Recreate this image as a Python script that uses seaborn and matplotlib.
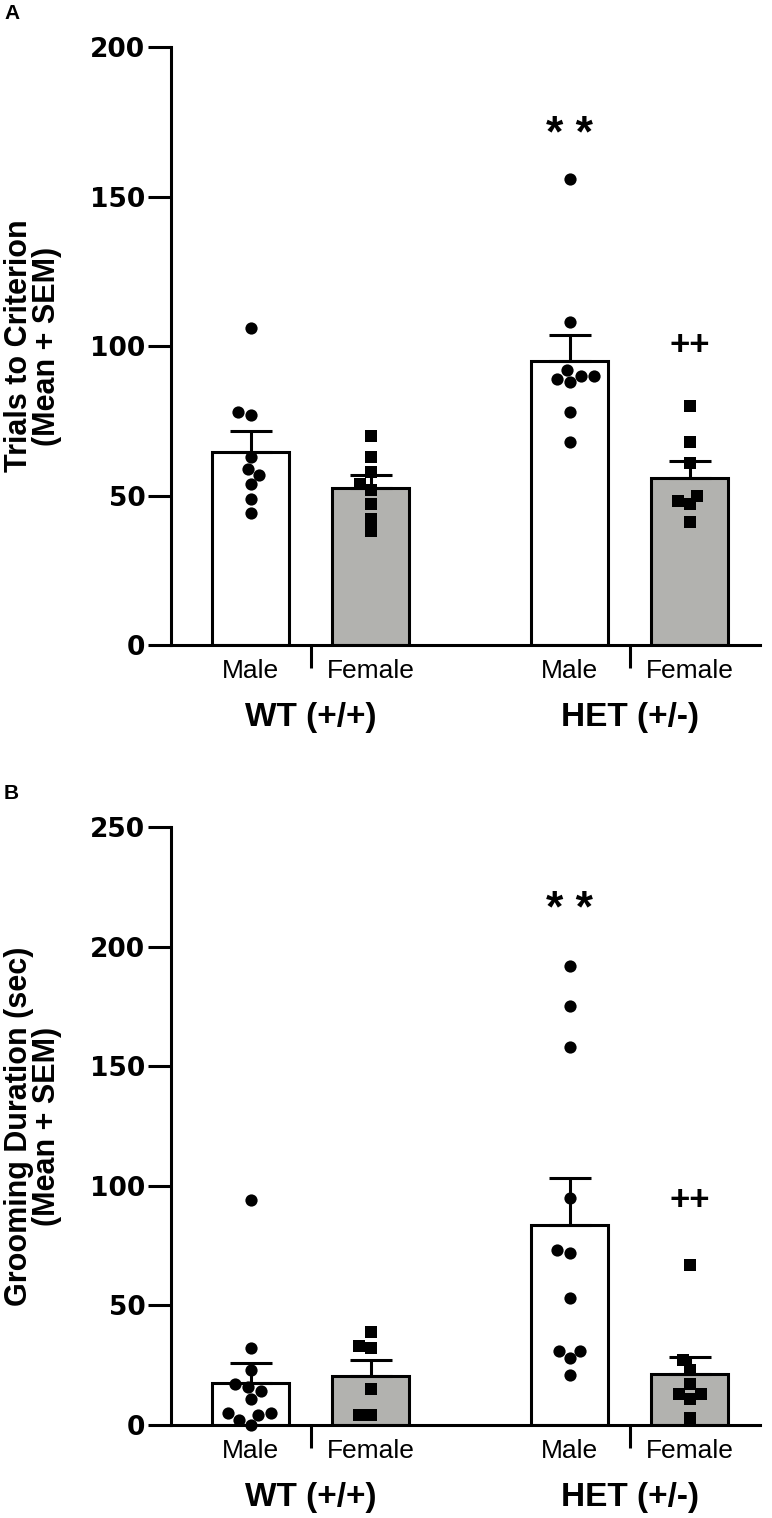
import pandas as pd
import seaborn as sns
import matplotlib.pyplot as plt

# Groups / bars
group_names = ["WT (+/+)", "HET (+/-)"]
sexes = ["Male", "Female", "Male", "Female"]
bar_pos = [0.0, 1.0, 2.66, 3.66]
group_pos = [0.5, 3.16]

# Panel A: trials to criterion (individual animals)
trials_wt_male = [106, 78, 77, 63, 59, 57, 54, 49, 44]
trials_wt_female = [70, 63, 58, 54, 52, 47, 42, 38]
trials_het_male = [156, 108, 92, 90, 90, 89, 88, 78, 68]
trials_het_female = [80, 68, 61, 50, 48, 47, 41]
trials_mean = [64.6, 52.4, 95.0, 55.9]
trials_sem = [7.0, 4.3, 8.8, 5.7]

# Panel B: grooming duration (sec)
groom_wt_male = [94, 32, 23, 17, 16, 14, 11, 5, 5, 4, 2, 0]
groom_wt_female = [39, 33, 32, 15, 4, 4]
groom_het_male = [192, 175, 158, 95, 73, 72, 53, 31, 31, 28, 21]
groom_het_female = [67, 27, 23, 17, 13, 13, 11, 3]
groom_mean = [17.7, 20.5, 83.7, 21.1]
groom_sem = [8.1, 6.6, 19.7, 7.5]

sns.set_theme(style="ticks")
plt.rcParams["font.family"] = ["Liberation Sans", "DejaVu Sans"]
plt.rcParams["text.color"] = "black"
plt.rcParams["axes.labelcolor"] = "black"
plt.rcParams["xtick.color"] = "black"
plt.rcParams["ytick.color"] = "black"

bar_colors = {"Male": "white", "Female": "#b2b2ae"}
LW = 2.2


def draw_panel(ax, point_lists, means, sems, ymax, yticks, ylabel, stars_y, plus_y):
    bars = pd.DataFrame({"pos": bar_pos, "mean": means, "sex": sexes})
    sns.barplot(data=bars, x="pos", y="mean", hue="sex", palette=bar_colors,
                native_scale=True, width=0.64, dodge=False, edgecolor="black",
                linewidth=LW, errorbar=None, legend=False, ax=ax, zorder=1)
    # upper SEM only
    ax.errorbar(bar_pos, means, yerr=[[0] * 4, sems], fmt="none", ecolor="black",
                elinewidth=LW, capsize=15, capthick=LW, zorder=2)

    rows = []
    for p, s, vals in zip(bar_pos, sexes, point_lists):
        for v in vals:
            rows.append({"pos": p, "value": v, "sex": s})
    pts = pd.DataFrame(rows)
    sns.swarmplot(data=pts[pts["sex"] == "Male"], x="pos", y="value", native_scale=True,
                  color="black", marker="o", size=8.8, ax=ax, zorder=3)
    sns.swarmplot(data=pts[pts["sex"] == "Female"], x="pos", y="value", native_scale=True,
                  color="black", marker="s", size=8.2, ax=ax, zorder=3)
    for c in ax.collections:
        c.set_clip_on(False)

    ax.set_xlim(-0.6625, 4.246)
    ax.set_ylim(0, ymax)
    sns.despine(ax=ax)
    for side in ["left", "bottom"]:
        ax.spines[side].set_linewidth(LW)
        ax.spines[side].set_color("black")

    ax.set_yticks(yticks)
    ax.tick_params(axis="y", length=16.5, width=LW, pad=2, labelsize=19)
    for lab in ax.get_yticklabels():
        lab.set_fontfamily("DejaVu Sans")
        lab.set_fontweight("bold")

    ax.set_xticks(bar_pos, labels=sexes)
    ax.tick_params(axis="x", which="major", length=0, pad=10, labelsize=19)
    ax.set_xticks(group_pos, minor=True)
    ax.tick_params(axis="x", which="minor", length=16.5, width=LW)
    ax.set_xlabel("")

    for gx, name in zip(group_pos, group_names):
        ax.annotate(name, xy=(gx, 0), xycoords=("data", "axes fraction"),
                    xytext=(0, -52), textcoords="offset points",
                    ha="center", va="center", fontsize=24, fontweight="bold")

    ax.set_ylabel(ylabel, fontsize=22, fontweight="bold", linespacing=0.92)
    ax.yaxis.set_label_coords(-0.185, 0.5)

    ax.annotate("* *", xy=(bar_pos[2], stars_y), xytext=(0, -0.575 * 32),
                textcoords="offset points", ha="center", va="baseline",
                fontsize=32, fontweight="bold")
    ax.annotate("++", xy=(bar_pos[3], plus_y), xytext=(0, -0.34 * 25),
                textcoords="offset points", ha="center", va="baseline",
                fontsize=25, fontweight="bold")


fig = plt.figure(figsize=(7.72, 15.18), dpi=100, facecolor="white")
ax_a = fig.add_axes([0.2215, 0.5751, 0.763, 0.3939])
ax_b = fig.add_axes([0.2215, 0.0613, 0.763, 0.3939])

draw_panel(ax_a, [trials_wt_male, trials_wt_female, trials_het_male, trials_het_female],
           trials_mean, trials_sem, 200, [0, 50, 100, 150, 200],
           "Trials to Criterion\n(Mean + SEM)", 175, 101)
draw_panel(ax_b, [groom_wt_male, groom_wt_female, groom_het_male, groom_het_female],
           groom_mean, groom_sem, 250, [0, 50, 100, 150, 200, 250],
           "Grooming Duration (sec)\n(Mean + SEM)", 221, 95)

fig.text(4 / 772, 1 - 4 / 1518, "A", ha="left", va="top", fontsize=15, fontweight="bold")
fig.text(4 / 772, 1 - 784 / 1518, "B", ha="left", va="top", fontsize=15, fontweight="bold")

fig.savefig("out.png", dpi=100, facecolor="white")
